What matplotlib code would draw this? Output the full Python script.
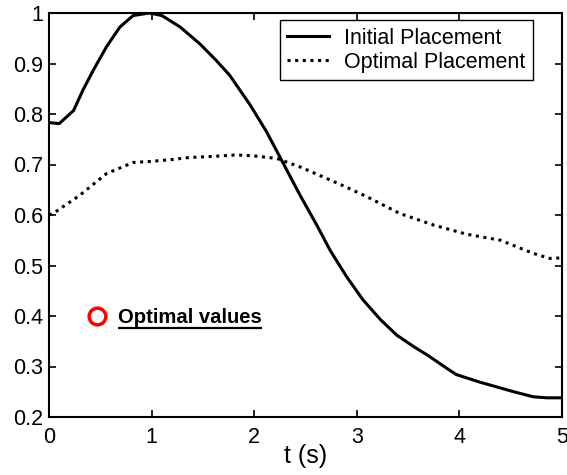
import matplotlib
matplotlib.use("Agg")
import matplotlib.pyplot as plt

t_initial = [0.0, 0.1, 0.24, 0.33, 0.43, 0.56, 0.69, 0.82, 0.98, 1.1, 1.28, 1.47, 1.63, 1.76, 1.96, 2.12, 2.25,
             2.45, 2.61, 2.74, 2.9, 3.06, 3.23, 3.39, 3.55, 3.7, 3.88, 3.97, 4.2, 4.53, 4.72, 4.85, 5.0]
y_initial = [0.783, 0.781, 0.807, 0.847, 0.886, 0.933, 0.972, 0.995, 1.0, 0.995, 0.972, 0.939, 0.906, 0.877, 0.818,
             0.765, 0.715, 0.638, 0.580, 0.530, 0.478, 0.432, 0.393, 0.362, 0.340, 0.321, 0.296, 0.284, 0.269,
             0.25, 0.24, 0.238, 0.238]

t_optimal = [0.0, 0.04, 0.3, 0.56, 0.82, 0.98, 1.21, 1.37, 1.6, 1.83, 2.0, 2.22, 2.45, 2.71, 2.9, 3.1, 3.42,
             3.75, 4.07, 4.4, 4.72, 4.88, 5.0]
y_optimal = [0.600, 0.603, 0.639, 0.682, 0.704, 0.706, 0.71, 0.714, 0.716, 0.719, 0.717, 0.712, 0.695, 0.672,
             0.655, 0.636, 0.603, 0.580, 0.562, 0.550, 0.524, 0.514, 0.515]

opt_point_t = [0.465]
opt_point_y = [0.4]

x_ticks = [0, 1, 2, 3, 4, 5]
y_ticks = [0.2, 0.3, 0.4, 0.5, 0.6, 0.7, 0.8, 0.9, 1.0]
y_tick_labels = ['0.2', '0.3', '0.4', '0.5', '0.6', '0.7', '0.8', '0.9', '1']

plt.rcParams['font.family'] = ['Liberation Sans', 'DejaVu Sans']

fig = plt.figure(figsize=(5.67, 4.75), dpi=100)
ax = fig.add_axes([49/567, 1 - 417/475, (562-49)/567, (417-13)/475])

ax.plot(t_initial, y_initial, color='black', lw=2.2, label='Initial Placement')
ax.plot(t_optimal, y_optimal, color='black', lw=2.2, linestyle=(0, (1.0, 1.5)), label='Optimal Placement')
ax.plot(opt_point_t, opt_point_y, 'o', mfc='none', mec='red', mew=2.5, ms=12)

txt = ax.text(0.675, 0.3855, 'Optimal values', fontsize=14.6, fontweight='bold', va='baseline', ha='left')

ax.set_xlim(0, 5)
ax.set_ylim(0.2, 1.0)
ax.set_xticks(x_ticks)
ax.set_yticks(y_ticks)
ax.set_yticklabels(y_tick_labels)
ax.tick_params(direction='in', top=True, right=True, length=5, width=1.2, labelsize=15.5)
ax.tick_params(axis='x', pad=7)
ax.tick_params(axis='y', pad=4)
for s in ax.spines.values():
    s.set_linewidth(1.5)
ax.set_xlabel('t (s)', fontsize=18)
ax.xaxis.label.set_va('baseline')
ax.xaxis.set_label_coords(0.5, (417 - 463) / 404)

leg = ax.legend(loc='upper right', bbox_to_anchor=((533 - 49) / 513, 1 - 7 / 404), borderaxespad=0,
                fontsize=15.5, frameon=True, fancybox=False, edgecolor='black', framealpha=1,
                handlelength=1.95, handletextpad=0.7, borderpad=0.35, labelspacing=0.15)
leg.get_frame().set_linewidth(1.0)

fig.canvas.draw()
bb = txt.get_window_extent()
inv = ax.transData.inverted()
(x0, y0), (x1, _) = inv.transform([(bb.x0, bb.y0 - 0.5), (bb.x1, bb.y0 - 0.5)])
ax.plot([x0, x1], [y0, y0], color='black', lw=1.6, solid_capstyle='butt')

fig.savefig('out.png', dpi=100)
